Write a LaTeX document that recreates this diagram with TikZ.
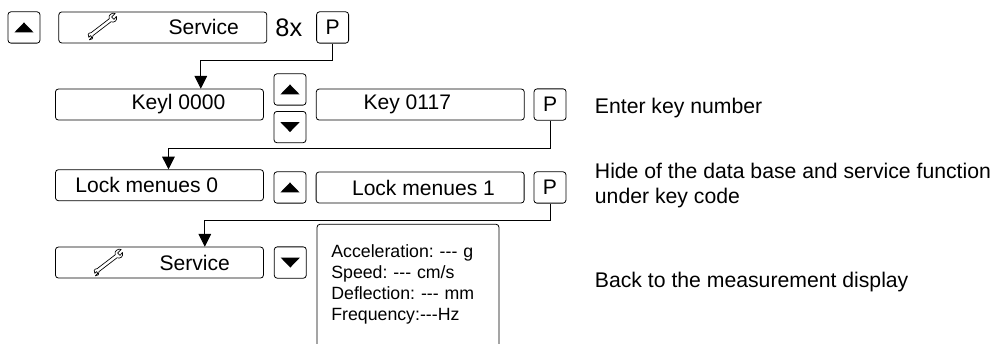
\documentclass[tikz,border=0pt]{standalone}
\usepackage{fontspec}
\setmainfont{Liberation Sans}
\usetikzlibrary{positioning, arrows.meta}

\begin{document}
\begin{tikzpicture}[
  display/.style={rectangle, draw=black, line width=0.6pt, rounded corners=2.2pt, minimum width=156pt, minimum height=23.25pt, inner sep=0pt, font=\fontsize{15.8}{18}\selectfont},
  keybox/.style={rectangle, draw=black, line width=0.6pt, rounded corners=2.2pt, minimum width=24pt, minimum height=23.5pt, inner sep=0pt, font=\fontsize{15.8}{18}\selectfont},
  upkey/.style={keybox, path picture={\fill[sharp corners] ([shift={(-7.25pt,-3.75pt)}]path picture bounding box.center) -- ++(14.5pt,0) -- ++(-7.25pt,7.5pt) -- cycle;}},
  downkey/.style={keybox, path picture={\fill[sharp corners] ([shift={(-7.25pt,3.75pt)}]path picture bounding box.center) -- ++(14.5pt,0) -- ++(-7.25pt,-7.5pt) -- cycle;}},
  line/.style={line width=0.6pt, -{Triangle[length=9.5pt,width=9.5pt]}},
  note/.style={inner sep=0pt, anchor=west, font=\fontsize{15.9}{18.75}\selectfont, align=left},
  wrench/.pic={
    \draw[line width=0.5pt, line join=round, fill=white]
      (-11pt,-9.5pt) .. controls (-12.5pt,-8pt) and (-11.5pt,-5.5pt) .. (-9pt,-5.5pt)
      -- (6pt,6pt) .. controls (5pt,9pt) and (8pt,11.5pt) .. (11pt,10.5pt)
      -- (8pt,7.5pt) -- (10pt,5.5pt) -- (12pt,8pt)
      .. controls (13pt,4.5pt) and (10.5pt,2.5pt) .. (7.5pt,3.5pt)
      -- (-7.5pt,-8pt) .. controls (-7pt,-10.5pt) and (-8.5pt,-11.5pt) .. (-10.5pt,-11.5pt)
      -- (-8.5pt,-9.5pt) -- (-9.5pt,-8pt) -- cycle;
  },
  node distance=6pt and 7.5pt
]
\useasboundingbox (0pt,0pt) rectangle (745.5pt,-257.25pt);

% Top row
\node[upkey] (UpA) at (18pt,-20.6pt) {};
\node[display, right=13.5pt of UpA] (ServiceA) {\hspace*{61.5pt}Service};
\node[inner sep=0pt, right=6pt of ServiceA, font=\fontsize{19}{21}\selectfont] (Times) {8x};
\node[keybox, right=36.75pt of ServiceA] (PA) {P};

% Key number row
\node[display] (Keyl) at (119.6pt,-78.4pt) {\hspace*{28.5pt}Keyl 0000};
\node[upkey] (UpB) at (217.5pt,-67.1pt) {};
\node[downkey, below=4.1pt of UpB] (DownB) {};
\node[display, right=39pt of Keyl] (Key) {\hspace*{-19.5pt}Key 0117};
\node[keybox, right=6.75pt of Key] (PB) {P};

% Lock row
\node[display] (LockA) at (119.6pt,-138.9pt) {\hspace*{-19pt}Lock menues 0};
\node[upkey] (UpC) at (217.5pt,-140.6pt) {};
\node[display, right=7pt of UpC] (LockB) {\hspace*{5pt}Lock menues 1};
\node[keybox, right=6.75pt of LockB] (PC) {P};

% Service row with panel
\node[display] (ServiceB) at (119.6pt,-196.9pt) {\hspace*{53pt}Service};
\node[downkey, right=7.5pt of ServiceB] (DownC) {};
\node[inner xsep=10.5pt, inner ysep=0pt, minimum height=89.25pt, anchor=north west, font=\fontsize{13.3}{15.75}\selectfont\frenchspacing, align=left, text width=115pt] (Panel) at (237.8pt,-168.2pt)
  {Acceleration: -{}-{}- g\\Speed: -{}-{}- cm/s\\Deflection: -{}-{}- mm\\Frequency:-{}-{}-Hz};
\draw[line width=0.6pt, rounded corners=2.2pt] (Panel.south west) |- (Panel.north east) -- (Panel.south east);

% Wrench icons
\pic[scale=0.9] at (76.5pt,-19.5pt) {wrench};
\pic[scale=0.9] at (81pt,-196.5pt) {wrench};

% Notes on the right
\node[note] (NoteA) at (446pt,-81pt) {Enter key number};
\node[note] (NoteB) at (446pt,-139pt) {Hide of the data base and service function\\under key code};
\node[note] (NoteC) at (446pt,-211.5pt) {Back to the measurement display};

% Connectors
\draw[line] (PA.south) -- ++(0,-12.75pt) -| ([xshift=31pt]Keyl.north);
\draw[line] (PB.south) -- ++(0,-21pt) -| ([xshift=6.75pt]LockA.north);
\draw[line] (PC.south) -- ++(0,-13pt) -| ([xshift=34pt]ServiceB.north);

\end{tikzpicture}
\end{document}
